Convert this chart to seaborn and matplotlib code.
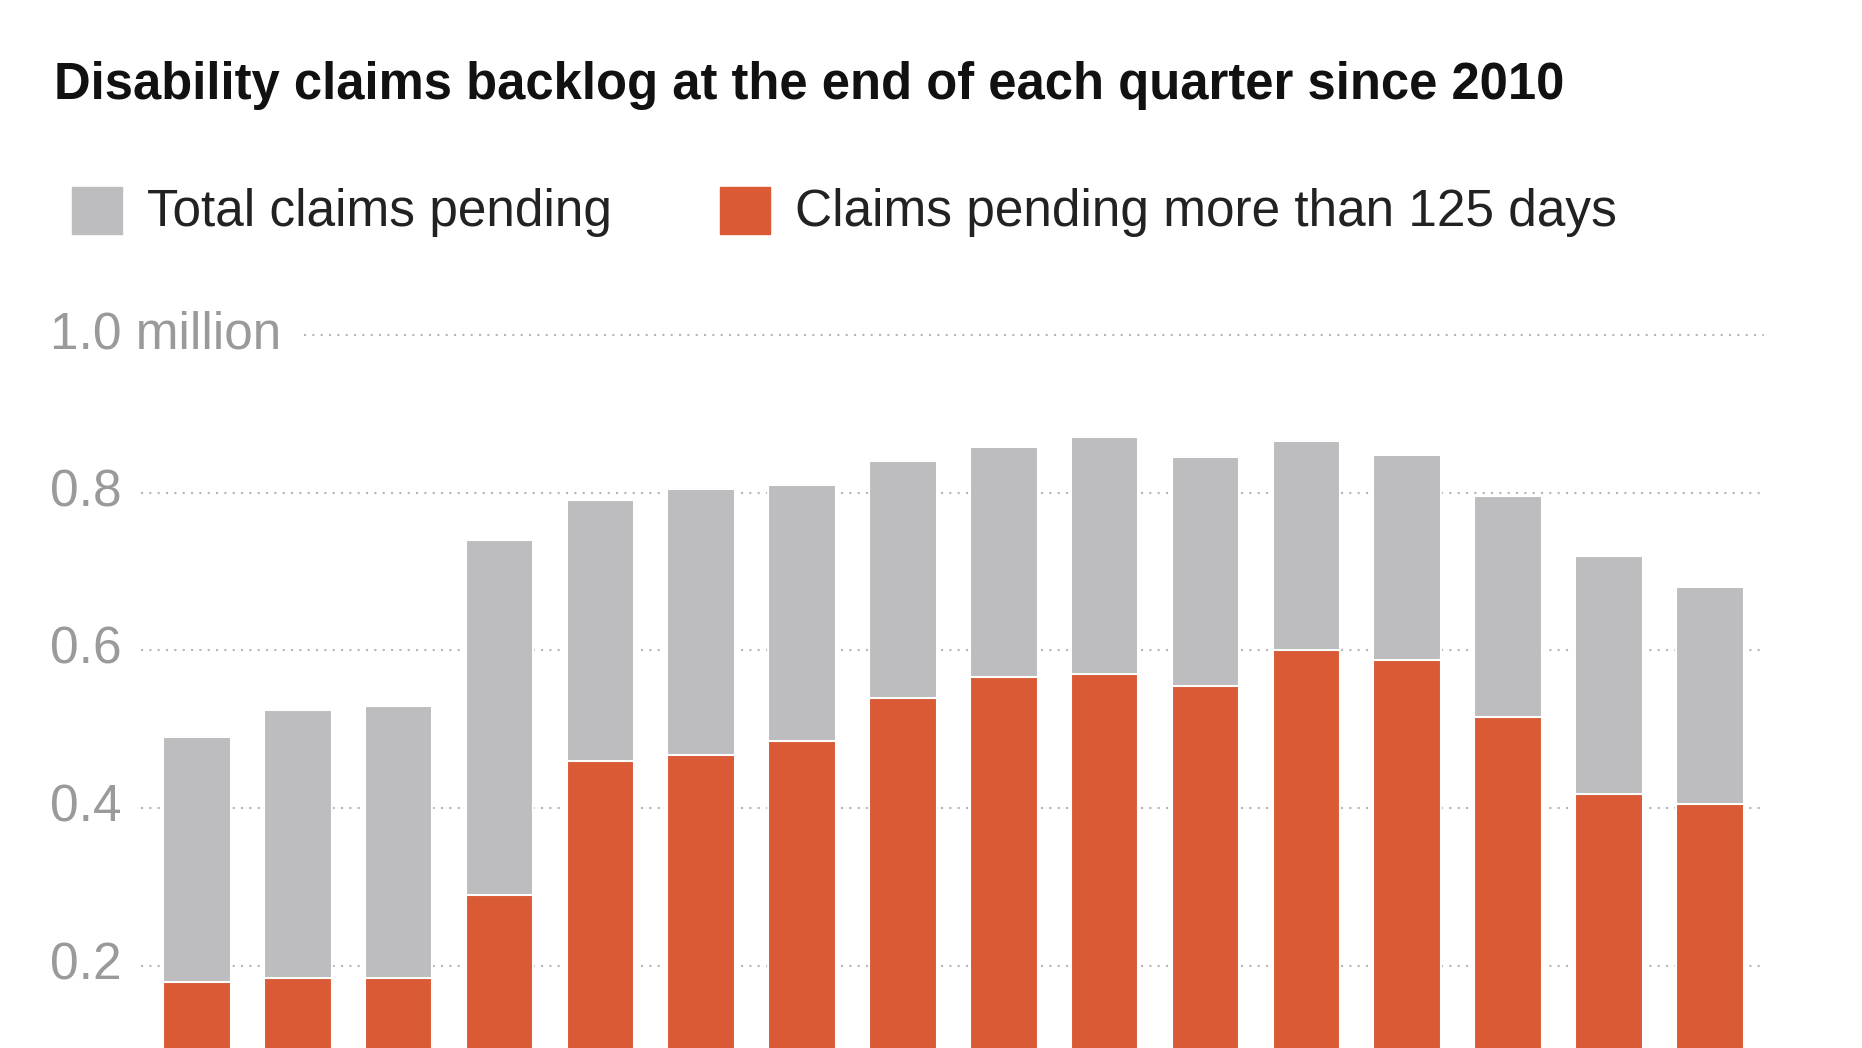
import matplotlib
matplotlib.use("Agg")
import matplotlib.pyplot as plt
import seaborn as sns
import pandas as pd

quarters = list(range(16))
total_pending = [0.49, 0.525, 0.53, 0.74, 0.79, 0.805, 0.81, 0.84, 0.858, 0.87, 0.845, 0.865, 0.848, 0.795, 0.72, 0.68]
over_125 = [0.18, 0.185, 0.185, 0.29, 0.46, 0.468, 0.485, 0.54, 0.566, 0.57, 0.555, 0.60, 0.588, 0.515, 0.418, 0.405]
tick_vals = [0.2, 0.4, 0.6, 0.8, 1.0]
tick_labels = ["0.2", "0.4", "0.6", "0.8", "1.0 million"]

df = pd.DataFrame({"q": quarters, "total": total_pending, "over": over_125})
GRAY = "#bdbdbf"; ORANGE = "#d95a35"; TXT = "#9a9a9a"

fig = plt.figure(figsize=(18.62, 10.48), dpi=100)
ax = fig.add_axes([0, 0, 1, 1])
W = 1560.0
px = lambda p: (p - 165) / 84.5
sns.barplot(data=df, x="q", y="total", native_scale=True, width=0.67, color=GRAY, saturation=1,
            edgecolor="white", linewidth=1.5, ax=ax, zorder=2)
sns.barplot(data=df, x="q", y="over", native_scale=True, width=0.67, color=ORANGE, saturation=1,
            edgecolor="white", linewidth=1.5, ax=ax, zorder=3)
ax.set_xlim(px(0), px(W))
ax.set_ylim(0.2 - 69/665, 1.0 + 282/665)
ax.axis("off")
for v, lab in zip(tick_vals, tick_labels):
    start = px(255) if v == 1.0 else px(118)
    ax.hlines(v, start, px(1478), colors="#b5b5b5", linestyles=(0, (1, 3)), linewidth=1.5, zorder=1)
    ax.text(px(42), v, lab, color=TXT, fontsize=37, va="center", ha="left", family="Liberation Sans")

fig.text(45/W, 1 - 72/882, "Disability claims backlog at the end of each quarter since 2010",
         fontsize=36.5, fontweight="bold", va="center", ha="left", family="Liberation Sans", color="#111111")
for x0, col, lab in [(60, GRAY, "Total claims pending"), (603, ORANGE, "Claims pending more than 125 days")]:
    fig.patches.append(plt.Rectangle((x0/W, 1 - 197/882), 42/W, 40/882, color=col, transform=fig.transFigure))
    fig.text((x0 + 63)/W, 1 - 179/882, lab, fontsize=37, va="center", ha="left",
             family="Liberation Sans", color="#222222")
fig.savefig("out.png", dpi=100)
